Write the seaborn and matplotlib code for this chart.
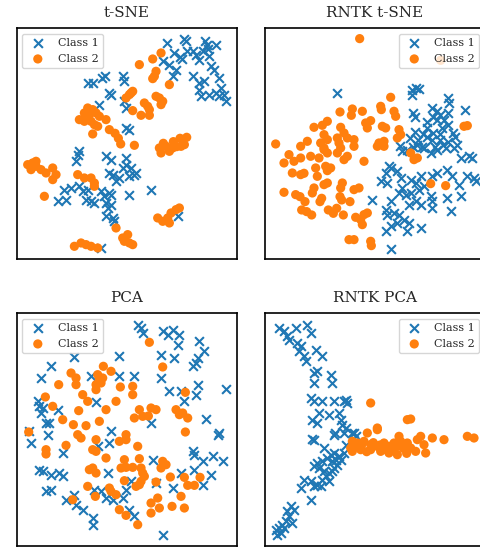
import matplotlib
matplotlib.use("Agg")
import matplotlib.pyplot as plt
import seaborn as sns
import pandas as pd

# ---------------- data (arbitrary embedding units, y grows downward) ----------------
tsne_class1 = [(501,129),(551,117),(558,124),(616,124),(620,134),(648,134),(523,159),(540,172),
    (560,154),(578,152),(588,164),(598,179),(608,154),(625,146),(628,169),(488,184),(508,194),
    (528,209),(518,229),(545,176),(633,199),(643,209),(658,234),(578,229),(598,249),(613,244),
    (596,269),(603,289),(628,284),(648,279),(658,289),(673,284),(678,304),(663,264),(263,249),
    (280,249),(306,234),(316,229),(368,229),(373,244),(328,279),(333,284),(298,314),(373,304),
    (378,324),(378,384),(386,389),
    (238,454),(233,464),(228,484),(318,469),(333,479),(378,474),(378,494),(368,504),(393,504),
    (388,529),(403,524),(408,519),(328,519),(338,524),(348,544),(358,534),(193,569),(213,564),
    (238,559),(248,574),(263,569),(173,604),(198,599),(258,599),(273,604),(283,609),(303,574),
    (313,589),(328,579),(333,584),(318,609),(333,614),(323,624),(318,649),(338,654),(343,664),
    (388,584),(453,569),(303,744),(533,649)]
tsne_class2 = [(483,159),(458,177),(418,194),(468,214),(463,229),(458,236),(508,254),(398,274),
    (388,284),(378,294),(393,279),(468,289),(478,294),(488,304),(483,314),(433,309),(443,319),
    (448,329),(423,346),(448,346),(398,332),(263,324),(278,329),(253,339),(268,344),(288,339),
    (298,349),(238,359),(253,364),(273,364),(283,374),(293,379),(278,402),(318,359),(328,389),
    (345,400),(355,415),(362,432),(403,436),(478,444),(498,439),(518,444),(543,439),(553,434),
    (483,459),(508,454),(490,430),(520,425),(540,415),(560,412),(530,440),(83,494),(98,489),
    (108,484),(93,509),(123,509),(138,519),(158,504),(168,524),(158,539),(108,499),(133,589),
    (233,524),(253,534),(273,534),(283,549),(283,559),(348,684),(473,654),(488,664),(503,654),
    (513,639),(528,629),(538,624),(508,669),(368,714),(383,704),(373,724),(388,729),(398,734),
    (223,739),(243,729),(258,734),(273,739),(293,744)]

rntk_tsne_class1 = [(292,279),(517,270),(527,265),(537,268),(517,285),(625,293),(628,310),(675,330),
    (575,325),(590,333),(520,340),(525,350),(580,350),(600,345),(625,340),(560,365),(590,360),
    (612,360),(625,375),(560,385),(605,385),(580,398),(525,395),(550,402),(600,402),(640,398),
    (510,415),(535,420),(560,410),(575,420),(600,420),(625,425),(645,412),(520,440),(545,440),
    (585,440),(610,435),(650,435),(480,438),
    (447,499),(437,519),(422,544),(442,549),(452,504),(472,514),(487,454),(502,449),(532,434),
    (552,444),(572,459),(592,449),(617,444),(642,444),(662,474),(687,469),(697,474),(682,529),
    (702,534),(707,544),(657,554),(637,529),(622,509),(592,519),(577,529),(542,529),(527,549),
    (512,539),(482,534),(487,564),(477,579),(497,584),(512,579),(537,569),(552,559),(572,589),
    (577,604),(577,624),(542,614),(527,604),(507,614),(622,594),(662,589),(632,634),(397,599),
    (452,604),(437,629),(442,644),(462,639),(477,644),(492,659),(507,669),(472,669),(452,679),
    (437,694),(502,694),(542,684),(452,747)]
rntk_tsne_class2 = [(359,116),(602,181),(452,292),(300,336),(337,327),(334,346),(367,334),(422,319),
    (424,329),(462,334),(467,349),(222,382),(247,376),(262,364),(302,382),(312,399),(322,414),
    (342,419),(377,369),(392,362),(382,384),(427,379),(437,384),(477,389),(482,404),(472,414),
    (202,424),(107,432),(252,404),(262,419),(242,429),(292,414),(297,429),(672,379),(682,377),
    (417,429),(432,424),(182,439),(252,444),(302,444),(342,439),(412,439),(432,439),(147,464),
    (132,489),(162,484),(182,474),(212,469),(237,474),(252,449),(262,459),(292,459),(312,479),
    (322,469),(372,484),(227,504),(257,499),(272,504),(232,529),(262,512),(157,519),(182,524),
    (192,520),(252,554),(262,549),(307,549),(302,564),(222,564),(217,579),(342,569),(357,564),
    (132,577),(167,584),(180,590),(195,605),(245,595),(240,605),(300,590),(305,600),(330,605),
    (185,630),(200,635),(215,645),(265,630),(280,640),(290,625),(310,645),(347,652),(362,659),
    (372,644),(382,639),(367,674),(327,719),(342,719),(392,724),(394,737),(512,459),(522,479),
    (532,474),(572,551),(617,557)]

pca_class1 = [(413,134),(423,144),(428,159),(488,154),(503,164),(518,149),(538,164),(533,194),
    (598,184),(613,214),(593,234),(588,249),(578,259),(483,224),(523,234),(483,294),(508,334),
    (543,334),(593,314),(588,344),(678,327),(553,364),(618,417),(453,429),(153,257),(123,294),
    (222,232),(273,287),(358,287),(403,289),(358,229),(288,367),(113,364),(118,377),(128,384),
    (123,399),(138,429),(148,429),(173,389),
    (88,454),(143,464),(93,489),(188,519),(118,569),(128,574),(153,584),(178,579),(188,589),
    (138,634),(153,629),(198,659),(223,644),(228,674),(248,689),(278,714),(278,734),(333,454),
    (328,489),(293,499),(323,579),(283,629),(303,634),(318,654),(338,659),(368,654),(378,629),
    (393,604),(388,689),(403,709),(468,609),(458,539),(543,579),(518,624),(578,514),(583,524),
    (608,544),(638,529),(668,544),(633,584),(583,569),(608,614),(653,464),(658,459),(488,764)]
pca_class2 = [(448,187),(488,261),(310,259),(333,274),(213,279),(228,294),(228,314),(293,284),
    (298,299),(288,314),(303,309),(308,294),(288,329),(176,314),(361,321),(398,319),(398,344),
    (136,351),(158,379),(248,344),(263,364),(348,364),(318,389),(236,392),(188,419),(220,434),
    (258,437),(298,424),(403,414),(418,389),(428,409),(453,384),(468,389),(445,408),(528,389),
    (538,404),(548,399),(563,414),(556,337),(86,456),(556,456),(198,496),(138,509),(138,522),
    (233,464),(243,474),(288,479),(358,484),(378,464),(378,479),(413,499),(278,509),(288,514),
    (318,534),(373,539),(418,536),(488,544),(498,554),(483,564),(268,569),(278,564),(288,579),
    (363,564),(378,562),(398,562),(423,564),(428,579),(433,589),(423,604),(408,619),(418,614),
    (373,602),(468,606),(511,591),(553,592),(563,616),(583,616),(600,592),(263,619),(286,649),
    (328,624),(333,634),(348,644),(218,659),(358,689),(378,706),(413,734),(453,669),(473,654),
    (478,684),(453,699),(516,679),(553,684),(543,649)]

rntk_pca_class1 = [(117,144),(132,154),(167,144),(202,134),(212,159),(142,169),(147,179),(172,189),
    (182,199),(177,214),(192,229),(197,244),(227,209),(247,229),(222,279),(232,274),(222,309),
    (272,284),(277,309),(212,354),(222,364),(247,364),(282,364),(312,364),(322,369),(317,359),
    (237,399),(217,419),(232,429),(267,404),(297,399),(302,419),(307,434),(317,444),(342,459),
    (285,460),(215,478),
    (222,479),(282,464),(312,459),(337,459),(347,469),(252,504),(232,549),(222,559),(237,564),
    (247,544),(262,534),(272,524),(282,519),(287,539),(297,529),(302,539),(312,519),(317,494),
    (252,574),(267,579),(282,564),(292,554),(277,544),(257,589),(247,599),(267,604),(242,619),
    (232,614),(212,604),(222,619),(192,599),(182,624),(212,659),(277,574),(152,679),(162,689),
    (142,694),(147,709),(137,724),(157,729),(127,734),(117,744),(107,749),(122,759),(112,764),
    (132,744)]
rntk_pca_class2 = [(392,369),(502,419),(512,417),(412,444),(382,459),(412,449),(337,484),(332,504),
    (352,489),(372,484),(392,494),(412,499),(432,489),(447,499),(462,489),(477,469),(482,484),
    (502,489),(512,504),(532,479),(542,469),(552,494),(557,519),(527,514),(472,524),(447,519),
    (422,514),(392,509),(362,509),(337,514),(577,474),(612,479),(682,469),(702,474),(345,500),
    (365,495),(400,488),(420,495),(440,510),(460,510),(490,505),(500,520),(470,500),(430,500),
    (380,515)]

titles = ["t-SNE", "RNTK t-SNE", "PCA", "RNTK PCA"]
class_labels = ["Class 1", "Class 2"]
panels = [(tsne_class1, tsne_class2), (rntk_tsne_class1, rntk_tsne_class2),
          (pca_class1, pca_class2), (rntk_pca_class1, rntk_pca_class2)]

# ---------------- layout ----------------
sns.set_style("white")
plt.rcParams["font.family"] = ["DejaVu Serif"]

W, H = 480, 547
fig = plt.figure(figsize=(W / 100, H / 100), dpi=100)
boxes = [(16.7, 28.3, 220, 231), (265, 28.3, 220, 231),
         (16.7, 313.3, 220, 232.4), (265, 313.3, 220, 232.4)]
limits = [((50, 710), (778, 85)), ((75, 735), (778, 85)),
          ((50, 710), (797, 100)), ((75, 735), (797, 100))]
legend_loc = ["upper left", "upper right", "upper left", "upper right"]
blue, orange = "#1f77b4", "#ff7f0e"

for i, (c1, c2) in enumerate(panels):
    l, t, w, h = boxes[i]
    ax = fig.add_axes([l / W, 1 - (t + h) / H, w / W, h / H])
    d1 = pd.DataFrame(c1, columns=["x", "y"])
    d2 = pd.DataFrame(c2, columns=["x", "y"])
    sns.scatterplot(data=d1, x="x", y="y", marker="x", color=blue, s=40,
                    linewidth=1.5, label=class_labels[0], ax=ax)
    sns.scatterplot(data=d2, x="x", y="y", marker="o", color=orange, s=44,
                    linewidth=0, edgecolor="none", label=class_labels[1], ax=ax)
    ax.set_xlim(*limits[i][0])
    ax.set_ylim(*limits[i][1])
    ax.set_xticks([]); ax.set_yticks([])
    ax.set_xlabel(""); ax.set_ylabel("")
    for sp in ax.spines.values():
        sp.set_color("black"); sp.set_linewidth(1.2)
    ax.set_title(titles[i], fontsize=11, pad=8)
    ax.legend(loc=legend_loc[i], fontsize=8, frameon=True, framealpha=0.8,
              borderaxespad=0.5)

fig.savefig("out.png", dpi=100)
